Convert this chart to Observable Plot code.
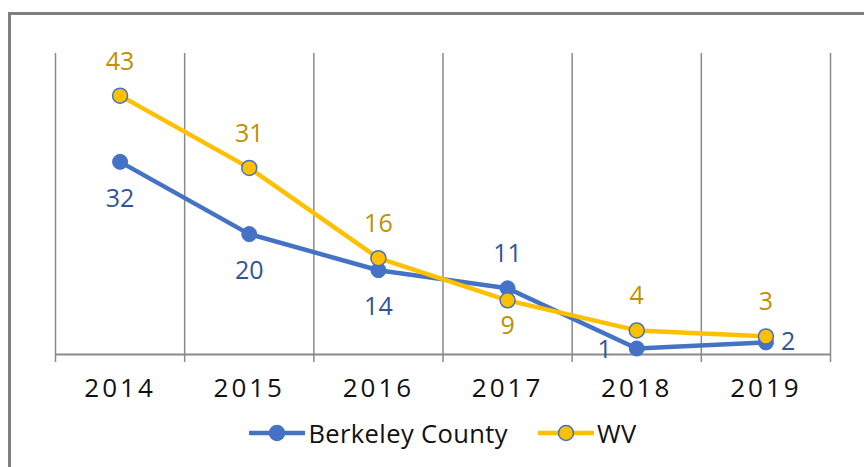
<!DOCTYPE html>
<html>
<head>
<meta charset="utf-8">
<script src="https://cdn.jsdelivr.net/npm/d3@7"></script>
<script src="https://cdn.jsdelivr.net/npm/@observablehq/plot@0.6"></script>
<style>
  html, body { margin: 0; padding: 0; background: #fff; overflow: hidden; }
  #wrap { position: relative; width: 864px; height: 467px; font-family: "Open Sans", Lato, sans-serif; }
  #chart { position: absolute; left: 0; top: 0; }
  #frame { position: absolute; left: 8px; top: 12px; width: 900px; height: 500px; border: 3px solid #7f7f7f; pointer-events: none; }
  #chart g[aria-label="x-axis tick label"] text { letter-spacing: 3px; }
  #legend { position: absolute; left: 0; width: 886px; top: 416px; display: flex; justify-content: center; align-items: center; font-size: 25.5px; letter-spacing: 0.4px; color: #111; }
  .item { display: flex; align-items: center; margin: 0 15px; }
  .item svg { margin-right: 3px; }
</style>
</head>
<body>
<div id="wrap">
  <div id="chart"></div>
  <div id="legend"></div>
  <div id="frame"></div>
</div>
<script>
const years = [2014, 2015, 2016, 2017, 2018, 2019];
const berkeley = [32, 20, 14, 11, 1, 2];
const wv = [43, 31, 16, 9, 4, 3];
const seriesNames = ["Berkeley County", "WV"];
const berkeleyLabelPlace = ["below", "below", "below", "above", "left", "right"];
const wvLabelPlace = ["above", "above", "above", "under", "above", "above"];

const BLUE = "#4472C4", GOLD = "#FFC000";
const BLUE_TXT = "#2F5597", GOLD_TXT = "#BF9000";
const GRID = "#8a8a8a";

const rows = years.map((year, i) => ({year, berkeley: berkeley[i], wv: wv[i], bPos: berkeleyLabelPlace[i], wPos: wvLabelPlace[i]}));
const boundaries = [years[0] - 0.5, ...years.map(y => y + 0.5)];

const offsets = {
  above: {dx: 0, dy: -34, textAnchor: "middle"},
  below: {dx: 0, dy: 37, textAnchor: "middle"},
  under: {dx: 0, dy: 26, textAnchor: "middle"},
  left: {dx: -32, dy: 2, textAnchor: "middle"},
  right: {dx: 15, dy: 0, textAnchor: "start"}
};

function labelMarks(key, posKey, color) {
  return Object.entries(offsets).map(([place, o]) =>
    Plot.text(rows.filter(d => d[posKey] === place), {
      x: "year", y: key, text: d => String(d[key]),
      dx: o.dx, dy: o.dy, textAnchor: o.textAnchor,
      fill: color, fontSize: 25
    })
  );
}

const chart = Plot.plot({
  width: 864,
  height: 410,
  marginLeft: 55,
  marginRight: 34,
  marginTop: 53,
  marginBottom: 56,
  style: {fontFamily: "'Open Sans', Lato, sans-serif", background: "transparent", color: "#111"},
  x: {type: "linear", domain: [years[0] - 0.5, years[years.length - 1] + 0.5]},
  y: {domain: [0, 50], axis: null},
  marks: [
    Plot.ruleX(boundaries, {x: d => d, y1: 0, y2: 50, stroke: GRID, strokeWidth: 1.5}),
    Plot.axisX({ticks: boundaries, tickSize: 8, tickFormat: () => "", stroke: GRID, strokeWidth: 1.5, strokeOpacity: 1, label: null}),
    Plot.axisX({ticks: years, tickSize: 0, tickPadding: 24, tickFormat: d => String(d), fontSize: 26, fill: "#111", label: null}),
    Plot.ruleY([0], {stroke: GRID, strokeWidth: 2}),
    Plot.line(rows, {x: "year", y: "berkeley", stroke: BLUE, strokeWidth: 4.5}),
    Plot.dot(rows, {x: "year", y: "berkeley", r: 7.5, fill: BLUE, stroke: BLUE, strokeWidth: 1}),
    Plot.line(rows, {x: "year", y: "wv", stroke: GOLD, strokeWidth: 4.5}),
    Plot.dot(rows, {x: "year", y: "wv", r: 7.5, fill: GOLD, stroke: BLUE, strokeWidth: 1.5}),
    ...labelMarks("berkeley", "bPos", BLUE_TXT),
    ...labelMarks("wv", "wPos", GOLD_TXT)
  ]
});
document.getElementById("chart").appendChild(chart);

const legend = document.getElementById("legend");
const swatches = [
  {fill: BLUE, stroke: BLUE, line: BLUE},
  {fill: GOLD, stroke: BLUE, line: GOLD}
];
seriesNames.forEach((name, i) => {
  const s = swatches[i];
  const item = document.createElement("div");
  item.className = "item";
  item.innerHTML = `<svg width="56" height="20"><line x1="1" x2="55" y1="10" y2="10" stroke="${s.line}" stroke-width="4.5" stroke-linecap="round"/><circle cx="28" cy="10" r="7.5" fill="${s.fill}" stroke="${s.stroke}" stroke-width="1.5"/></svg><span>${name}</span>`;
  legend.appendChild(item);
});
</script>
</body>
</html>
